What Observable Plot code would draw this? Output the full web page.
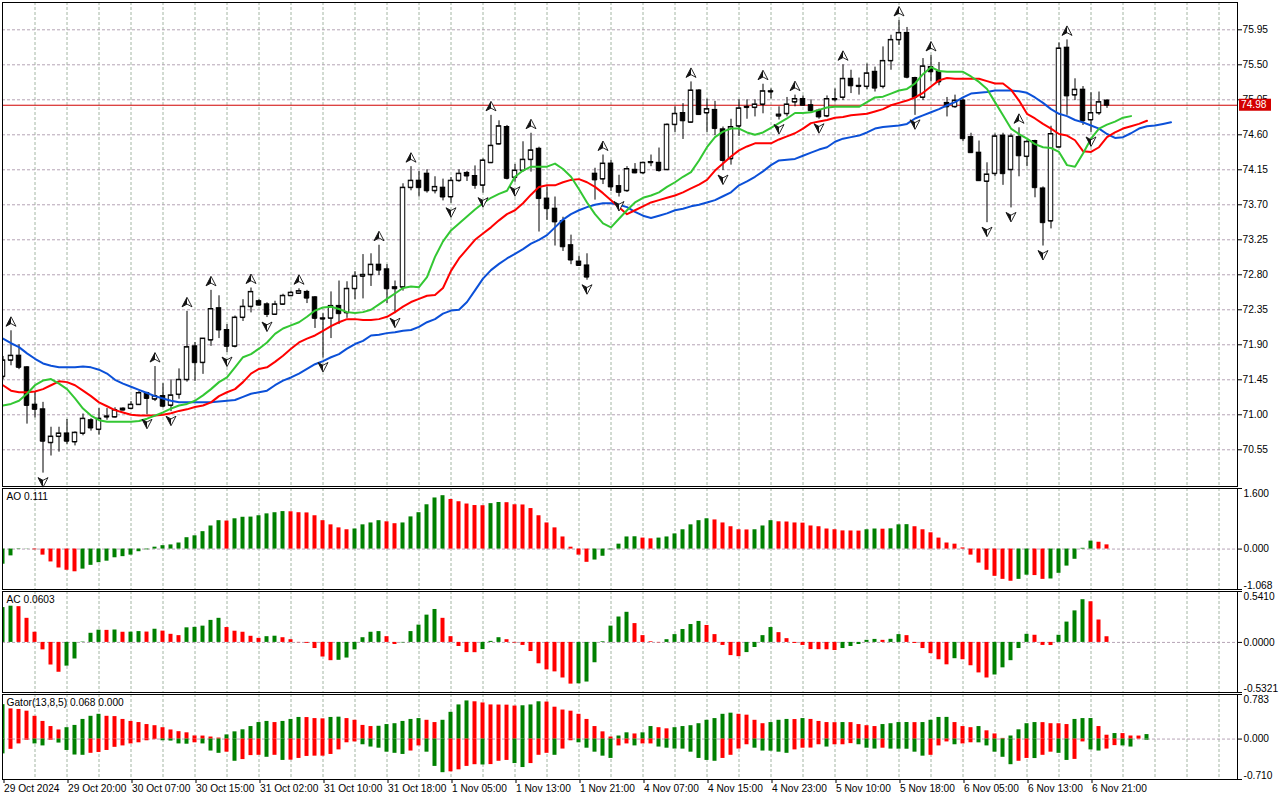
<!DOCTYPE html>
<html><head><meta charset="utf-8">
<script src="https://cdn.jsdelivr.net/npm/d3@7"></script>
<script src="https://cdn.jsdelivr.net/npm/@observablehq/plot@0.6"></script>
<style>
body{margin:0;background:#fff;}
#chart{position:relative;width:1280px;height:800px;overflow:hidden;background:#fff;}
#chart svg{position:absolute;left:0;}
</style></head><body><div id="chart"></div>
<script>
// ---------- DATA ----------
const open = [71.49,71.70,71.76,71.61,71.13,71.07,70.64,70.72,70.76,70.65,
70.76,70.93,70.81,70.97,70.97,71.08,71.08,71.13,71.28,71.20,
71.24,71.12,71.26,71.45,71.88,71.67,71.96,72.37,72.09,71.88,
72.25,72.39,72.46,72.42,72.29,72.42,72.53,72.56,72.58,72.51,
72.24,72.24,72.40,72.31,72.62,72.78,72.80,72.93,72.87,72.64,
72.64,73.92,74.01,74.10,73.88,73.92,73.80,74.01,74.11,74.07,
73.95,74.24,74.48,74.70,74.05,74.14,74.28,74.42,73.78,73.65,
73.49,73.18,72.97,72.92,74.10,74.03,74.23,73.94,73.88,74.15,
74.11,74.24,74.24,74.15,74.73,74.88,74.76,75.17,74.88,74.92,
74.67,74.29,74.71,74.95,74.95,74.99,75.16,74.84,74.87,75.02,
75.06,74.98,74.91,74.84,75.05,75.08,75.32,75.23,75.22,75.41,
75.22,75.55,75.82,75.91,75.33,75.08,75.47,75.41,75.01,74.96,
75.04,74.57,74.37,74.00,74.10,74.59,74.15,74.57,74.32,74.52,
73.91,73.49,74.44,75.72,75.11,75.18,74.79,74.88,75.04];
const high = [71.75,72.08,71.90,71.62,71.30,71.16,70.84,70.84,70.94,70.78,
71.01,70.95,71.08,71.08,71.09,71.09,71.17,71.30,71.29,71.62,
71.40,71.45,71.59,72.33,71.93,71.98,72.60,72.53,72.16,72.27,
72.48,72.63,72.48,72.44,72.46,72.55,72.59,72.62,72.60,72.52,
72.30,72.58,72.72,72.71,72.84,73.06,73.07,73.18,72.93,72.72,
73.97,74.19,74.13,74.15,74.06,74.03,74.05,74.15,74.13,74.20,
74.29,74.85,74.78,74.72,74.22,74.51,74.62,74.44,73.93,73.80,
73.54,73.31,73.04,73.07,74.17,74.34,74.27,74.08,74.19,74.23,
74.25,74.34,74.43,74.74,74.96,75.00,75.28,75.18,75.06,75.03,
74.70,74.80,75.05,75.05,75.05,75.25,75.19,74.96,75.08,75.11,
75.10,75.05,74.93,75.10,75.19,75.50,75.43,75.33,75.51,75.47,
75.73,75.88,76.07,75.98,75.34,75.58,75.62,75.53,75.08,75.11,
75.06,74.62,74.52,74.24,74.61,74.62,74.61,74.69,74.53,74.53,
73.93,74.71,75.78,75.82,75.32,75.22,75.14,75.15,75.05];
const low = [71.45,71.63,71.58,70.88,70.96,70.25,70.47,70.52,70.62,70.60,
70.73,70.79,70.74,70.93,70.96,71.05,71.07,71.12,71.00,71.17,
71.09,71.04,71.20,71.42,71.43,71.52,71.88,71.98,71.80,71.86,
72.20,72.31,72.40,72.25,72.28,72.41,72.52,72.55,72.43,72.11,
71.73,71.98,72.16,72.24,72.48,72.49,72.65,72.79,72.43,72.30,
72.59,73.88,73.80,73.85,73.84,73.75,73.72,73.99,74.00,73.90,
73.85,74.23,74.47,74.02,73.99,74.12,74.12,73.35,73.50,73.17,
73.10,72.93,72.91,72.73,73.76,73.96,73.87,73.80,73.86,74.10,
74.09,74.19,74.12,74.14,74.63,74.54,74.76,74.85,74.63,74.59,
74.14,74.21,74.58,74.80,74.83,74.87,75.06,74.79,74.83,74.96,
74.97,74.89,74.80,74.82,75.02,75.04,75.13,75.11,75.18,75.15,
75.19,75.43,75.75,75.32,74.85,75.04,75.28,75.23,74.83,74.94,
74.51,74.36,74.00,73.47,74.06,73.95,73.66,74.06,74.19,73.79,
73.17,73.39,74.44,74.85,75.04,74.72,74.63,74.85,74.94];
const close = [71.70,71.76,71.61,71.12,71.07,70.66,70.72,70.76,70.66,70.77,
70.95,70.83,70.95,70.98,71.06,71.06,71.13,71.28,71.21,71.24,
71.11,71.25,71.45,71.87,71.67,71.98,72.36,72.09,71.88,72.25,
72.39,72.58,72.41,72.29,72.42,72.53,72.57,72.59,72.50,72.24,
72.23,72.40,72.30,72.62,72.78,72.80,72.93,72.86,72.62,72.62,
73.92,74.01,73.92,73.88,73.93,73.80,74.01,74.10,74.07,73.95,
74.27,74.46,74.71,74.04,74.14,74.28,74.40,73.78,73.65,73.48,
73.16,72.99,72.92,72.77,74.02,74.23,73.93,73.86,74.16,74.11,
74.24,74.25,74.14,74.73,74.87,74.78,75.17,74.86,74.93,74.68,
74.27,74.70,74.94,74.96,74.99,75.16,75.15,74.86,74.99,75.06,
74.98,74.91,74.83,75.06,75.06,75.32,75.23,75.22,75.39,75.20,
75.55,75.82,75.91,75.34,75.08,75.48,75.41,75.28,74.96,75.04,
74.55,74.37,74.01,74.09,74.58,74.10,74.58,74.33,74.51,73.92,
73.47,74.61,75.71,75.10,75.18,74.78,74.88,75.02,74.98];

// Alligator (jaw shifted 8, teeth 5, lips 3 bars)
const jaw = [71.98,71.92,71.87,71.79,71.72,71.66,71.63,71.61,71.61,71.61,
71.62,71.61,71.58,71.53,71.45,71.40,71.36,71.32,71.28,71.24,
71.21,71.18,71.16,71.16,71.16,71.16,71.16,71.17,71.18,71.19,
71.23,71.27,71.29,71.31,71.38,71.44,71.48,71.53,71.59,71.65,
71.69,71.74,71.78,71.85,71.91,71.95,72.02,72.03,72.05,72.06,
72.08,72.09,72.13,72.19,72.23,72.30,72.34,72.35,72.45,72.60,
72.75,72.86,72.94,73.01,73.07,73.13,73.20,73.25,73.31,73.41,
73.51,73.58,73.63,73.67,73.70,73.72,73.72,73.70,73.67,73.61,
73.56,73.53,73.56,73.59,73.63,73.65,73.68,73.70,73.73,73.76,
73.81,73.86,73.95,74.00,74.06,74.13,74.21,74.27,74.28,74.29,
74.33,74.37,74.41,74.44,74.51,74.55,74.57,74.59,74.63,74.68,
74.70,74.71,74.72,74.74,74.81,74.85,74.89,74.93,74.98,75.02,
75.08,75.13,75.14,75.15,75.17,75.17,75.17,75.16,75.14,75.08,
75.01,74.93,74.87,74.84,74.79,74.76,74.72,74.68,74.61,74.56,
74.57,74.62,74.68,74.71,74.72,74.74,74.76];
const teeth = [71.38,71.31,71.29,71.29,71.30,71.33,71.38,71.43,71.42,71.38,
71.31,71.24,71.16,71.11,71.06,71.03,71.00,70.99,70.99,70.99,
71.00,71.02,71.05,71.07,71.10,71.12,71.16,71.24,71.29,71.33,
71.42,71.53,71.59,71.61,71.68,71.76,71.85,71.93,71.98,72.02,
72.08,72.14,72.19,72.23,72.23,72.22,72.22,72.23,72.26,72.32,
72.39,72.45,72.49,72.53,72.54,72.63,72.85,73.01,73.13,73.25,
73.33,73.41,73.50,73.58,73.63,73.72,73.83,73.93,73.95,73.95,
73.99,74.02,74.03,73.99,73.93,73.85,73.76,73.67,73.58,73.63,
73.68,73.73,73.76,73.79,73.82,73.86,73.91,73.96,74.02,74.14,
74.23,74.32,74.40,74.45,74.49,74.49,74.49,74.54,74.58,74.62,
74.68,74.75,74.77,74.79,74.82,74.83,74.85,74.86,74.87,74.90,
74.93,74.98,75.01,75.04,75.08,75.14,75.22,75.30,75.33,75.32,
75.32,75.32,75.32,75.29,75.26,75.26,75.18,75.04,74.87,74.81,
74.74,74.68,74.61,74.59,74.53,74.39,74.38,74.44,74.57,74.63,
74.68,74.71,74.74,74.78];
const lips = [71.12,71.14,71.18,71.27,71.38,71.44,71.46,71.40,71.33,71.21,
71.08,70.99,70.93,70.91,70.91,70.91,70.91,70.92,70.95,70.99,
71.03,71.08,71.12,71.14,71.18,71.25,71.33,71.42,71.48,71.61,
71.74,71.78,71.85,71.93,72.04,72.11,72.15,72.19,72.26,72.34,
72.38,72.39,72.36,72.32,72.31,72.32,72.35,72.42,72.49,72.56,
72.63,72.65,72.64,72.77,73.03,73.23,73.37,73.46,73.55,73.64,
73.72,73.79,73.84,73.88,74.06,74.14,74.19,74.19,74.19,74.23,
74.16,74.06,73.90,73.73,73.58,73.46,73.41,73.52,73.63,73.73,
73.79,73.82,73.86,73.93,73.99,74.06,74.12,74.27,74.44,74.57,
74.64,74.68,74.68,74.63,74.60,74.63,74.69,74.75,74.81,74.88,
74.88,74.89,74.92,74.95,74.96,74.96,74.96,74.96,75.02,75.08,
75.09,75.13,75.17,75.19,75.26,75.38,75.47,75.42,75.41,75.41,
75.41,75.35,75.28,75.19,75.02,74.85,74.68,74.61,74.55,74.48,
74.44,74.43,74.38,74.21,74.19,74.36,74.55,74.68,74.73,74.77,
74.82,74.84];

const upFractals = [1,19,23,26,31,37,47,51,61,66,75,86,95,99,105,112,116,127,133];
const downFractals = [5,18,21,28,33,40,49,56,60,64,73,77,90,97,102,114,123,126,130,136];

const ao = [-0.40,-0.18,-0.01,-0.005,-0.02,-0.16,-0.34,-0.50,-0.56,-0.60,
-0.53,-0.43,-0.36,-0.32,-0.23,-0.20,-0.16,-0.07,-0.02,0.05,
0.09,0.11,0.16,0.30,0.35,0.46,0.61,0.75,0.74,0.80,
0.84,0.845,0.88,0.93,0.96,0.99,0.985,0.96,0.955,0.88,
0.75,0.64,0.56,0.51,0.53,0.64,0.69,0.75,0.72,0.67,
0.69,0.85,0.96,1.17,1.35,1.41,1.31,1.25,1.19,1.15,
1.145,1.20,1.23,1.225,1.17,1.165,1.07,0.88,0.69,0.56,
0.32,0.05,-0.16,-0.35,-0.29,-0.19,-0.02,0.13,0.32,0.325,
0.29,0.27,0.29,0.32,0.40,0.51,0.64,0.75,0.80,0.77,
0.69,0.59,0.51,0.505,0.51,0.61,0.75,0.72,0.715,0.69,
0.685,0.61,0.59,0.53,0.51,0.48,0.478,0.475,0.51,0.53,
0.525,0.535,0.64,0.645,0.59,0.51,0.43,0.29,0.16,0.13,
0.03,-0.16,-0.37,-0.56,-0.72,-0.80,-0.85,-0.80,-0.69,-0.70,
-0.80,-0.79,-0.64,-0.45,-0.27,0.02,0.21,0.18,0.111];
const ac = [0.37,0.385,0.38,0.256,0.108,-0.079,-0.24,-0.317,-0.252,-0.176,
0.004,0.097,0.13,0.128,0.132,0.108,0.109,0.115,0.11,0.14,
0.12,0.086,0.072,0.155,0.16,0.173,0.234,0.256,0.158,0.119,
0.108,0.065,0.043,0.061,0.066,0.05,0.029,-0.003,-0.01,-0.065,
-0.155,-0.194,-0.19,-0.166,-0.079,0.05,0.108,0.115,0.061,-0.022,
-0.005,0.115,0.184,0.29,0.35,0.256,0.061,-0.043,-0.108,-0.109,
-0.076,0.011,0.05,0.029,-0.007,-0.032,-0.097,-0.227,-0.292,-0.313,
-0.378,-0.443,-0.44,-0.421,-0.216,0.007,0.173,0.27,0.32,0.20,
0.072,0.007,-0.004,0.029,0.083,0.137,0.19,0.223,0.18,0.083,
-0.032,-0.14,-0.151,-0.108,-0.054,0.072,0.158,0.104,0.04,-0.011,
-0.032,-0.076,-0.077,-0.078,-0.086,-0.065,-0.043,-0.022,0.022,0.032,
0.022,0.033,0.083,0.072,-0.011,-0.065,-0.119,-0.184,-0.238,-0.173,
-0.184,-0.248,-0.324,-0.378,-0.346,-0.27,-0.194,-0.065,0.086,0.076,
-0.032,-0.033,0.076,0.216,0.335,0.454,0.432,0.238,0.0603];
const gatorUp = [0.605,0.53,0.52,0.49,0.40,0.31,0.22,0.16,0.20,0.24,
0.345,0.40,0.435,0.40,0.395,0.345,0.31,0.29,0.255,0.235,
0.20,0.16,0.13,0.11,0.055,0.053,0.036,0.018,0.073,0.127,
0.163,0.22,0.29,0.31,0.29,0.31,0.345,0.38,0.378,0.36,
0.355,0.38,0.385,0.36,0.33,0.24,0.22,0.225,0.255,0.27,
0.31,0.345,0.36,0.33,0.29,0.33,0.47,0.60,0.67,0.655,
0.635,0.60,0.598,0.596,0.58,0.585,0.60,0.655,0.65,0.56,
0.51,0.49,0.435,0.345,0.22,0.127,0.036,0.054,0.11,0.09,
0.11,0.22,0.20,0.18,0.20,0.22,0.235,0.27,0.33,0.36,
0.435,0.455,0.435,0.42,0.33,0.27,0.29,0.33,0.345,0.343,
0.36,0.345,0.31,0.29,0.288,0.29,0.289,0.255,0.235,0.22,
0.255,0.27,0.29,0.291,0.289,0.29,0.33,0.38,0.381,0.29,
0.22,0.20,0.22,0.145,0.09,0.012,0.054,0.163,0.27,0.29,
0.289,0.27,0.269,0.255,0.345,0.36,0.361,0.22,0.068,0.097,
0.096,0.054,0.053,0.079];
const gatorDown = [-0.26,-0.18,-0.085,-0.02,-0.085,-0.12,-0.02,-0.07,-0.20,-0.28,
-0.285,-0.25,-0.235,-0.20,-0.145,-0.12,-0.085,-0.065,-0.03,-0.01,
-0.03,-0.035,-0.085,-0.09,-0.065,-0.085,-0.21,-0.25,-0.23,-0.39,
-0.36,-0.29,-0.285,-0.32,-0.285,-0.375,-0.37,-0.34,-0.305,-0.30,
-0.30,-0.27,-0.19,-0.065,-0.05,-0.10,-0.14,-0.16,-0.23,-0.25,
-0.27,-0.21,-0.12,-0.23,-0.48,-0.59,-0.575,-0.54,-0.48,-0.45,
-0.455,-0.448,-0.39,-0.375,-0.43,-0.50,-0.43,-0.285,-0.25,-0.285,
-0.175,-0.03,-0.065,-0.16,-0.23,-0.30,-0.34,-0.12,-0.085,-0.12,
-0.085,-0.085,-0.14,-0.16,-0.175,-0.176,-0.23,-0.34,-0.375,-0.39,
-0.34,-0.285,-0.175,-0.10,-0.16,-0.21,-0.212,-0.23,-0.25,-0.19,
-0.16,-0.158,-0.10,-0.14,-0.10,-0.10,-0.08,-0.10,-0.16,-0.175,
-0.16,-0.176,-0.177,-0.178,-0.23,-0.30,-0.285,-0.12,-0.05,-0.10,
-0.085,-0.065,-0.066,-0.12,-0.23,-0.32,-0.45,-0.39,-0.34,-0.342,
-0.285,-0.23,-0.25,-0.375,-0.357,-0.05,-0.19,-0.21,-0.175,-0.115,
-0.12,-0.14,null,-0.02];

const priceTicks = [75.95,75.50,75.05,74.60,74.15,73.70,73.25,72.80,72.35,71.90,71.45,71.00,70.55];
const lastPrice = 74.98;
const timeIdx = [0,8,16,24,32,40,48,56,64,72,80,88,96,104,112,120,128,136];
const timeLabels = ["29 Oct 2024","29 Oct 20:00","30 Oct 07:00","30 Oct 15:00","31 Oct 02:00","31 Oct 10:00","31 Oct 18:00","1 Nov 05:00","1 Nov 13:00","1 Nov 21:00","4 Nov 07:00","4 Nov 15:00","4 Nov 23:00","5 Nov 10:00","5 Nov 18:00","6 Nov 05:00","6 Nov 13:00","6 Nov 21:00"];
const aoTicks = [1.600, 0, -1.068];
const acTicks = [0.5410, 0, -0.5321];
const gatorTicks = [0.783, 0, -0.710];
const aoTitle = "AO 0.111";
const acTitle = "AC 0.0603";
const gatorTitle = "Gator(13,8,5) 0.068 0.000";

// ---------- LAYOUT / STYLE ----------
const W = 1280, ML = 2, MR = 43;
const xDomain = [-0.0625, 154.3125];
const gridIdx = d3.range(4, 154, 4);
const GREEN = "#008000", RED = "#ff0000";
const VGRID = "#a4b6a4", HGRID = "#b6a4b6";
const FSIZE = "10.2px";
const FFAM = "'Liberation Sans', Arial, sans-serif";
const FONT = {fontFamily: FFAM, fontSize: FSIZE, color: "#000", background: "transparent", overflow: "visible"};
const chart = document.getElementById("chart");

const candles = open.map((o, k) => ({k, open: o, high: high[k], low: low[k], close: close[k]}));
const series = arr => arr.map((v, k) => ({k, v})).filter(d => d.v != null);
const colored = arr => arr.map((v, k) => ({k, v, up: k === 0 || arr[k-1] == null || Math.abs(v) > Math.abs(arr[k-1])})).filter(d => d.v != null);
const coloredSigned = arr => arr.map((v, k) => ({k, v, up: k === 0 || v > arr[k-1]}));

function arrowSym(dir, half) {
  return {draw(ctx, size) {
    const r = Math.sqrt(size / Math.PI), s = dir;
    ctx.moveTo(0, -r * s);
    if (!half) ctx.lineTo(r, 0.9 * r * s);
    ctx.lineTo(0, 0.35 * r * s);
    ctx.lineTo(-r, 0.9 * r * s);
    ctx.closePath();
  }};
}
const upF = upFractals.map(k => candles[k]);
const dnF = downFractals.map(k => candles[k]);

const main = Plot.plot({
  width: W, height: 488, marginLeft: ML, marginRight: MR, marginTop: 2, marginBottom: 2,
  style: FONT,
  x: {domain: xDomain, axis: null},
  y: {domain: [70.078, 76.301], axis: null},
  marks: [
    Plot.ruleX(gridIdx, {stroke: VGRID, strokeDasharray: "3,2"}),
    Plot.ruleY(priceTicks, {stroke: HGRID, strokeDasharray: "3,2"}),
    Plot.ruleY([lastPrice], {stroke: "#d00000"}),
    Plot.ruleX(candles, {x: "k", y1: "low", y2: "high", stroke: "#000", clip: true}),
    Plot.rect(candles, {x1: d => d.k - 0.28, x2: d => d.k + 0.28, y1: "open", y2: "close",
      fill: d => d.close >= d.open ? "#fff" : "#000", stroke: "#000", clip: true}),
    Plot.ruleY(candles, {y: "close", x1: d => d.k - 0.28, x2: d => d.k + 0.28, stroke: "#000", clip: true}),
    Plot.ruleY(candles, {y: "open", x1: d => d.k - 0.28, x2: d => d.k + 0.28, stroke: "#000", clip: true}),
    Plot.line(series(jaw), {x: "k", y: "v", stroke: "#0b50d8", strokeWidth: 2, clip: true}),
    Plot.line(series(teeth), {x: "k", y: "v", stroke: "#ff0000", strokeWidth: 2, clip: true}),
    Plot.line(series(lips), {x: "k", y: "v", stroke: "#33c733", strokeWidth: 2, clip: true}),
    Plot.dot(upF, {x: "k", y: "high", dy: -9, r: 5, symbol: arrowSym(1, false), fill: "#fff", stroke: "#111", strokeWidth: 0.9}),
    Plot.dot(upF, {x: "k", y: "high", dy: -9, r: 5, symbol: arrowSym(1, true), fill: "#111", stroke: "none"}),
    Plot.dot(dnF, {x: "k", y: "low", dy: 9, r: 5, symbol: arrowSym(-1, false), fill: "#fff", stroke: "#111", strokeWidth: 0.9}),
    Plot.dot(dnF, {x: "k", y: "low", dy: 9, r: 5, symbol: arrowSym(-1, true), fill: "#111", stroke: "none"}),
    Plot.axisY(priceTicks, {anchor: "right", label: null, tickSize: 4, tickPadding: 1, tickFormat: d => d.toFixed(2), fill: "#000"}),
    Plot.frame({stroke: "#000"})
  ]
});
main.style.top = "0px";
chart.appendChild(main);
// current price badge on the price axis
{
  const y = main.scale("y").apply(lastPrice);
  const g = d3.select(main).append("g");
  g.append("rect").attr("x", W - MR + 2).attr("y", y - 6).attr("width", 32).attr("height", 12).attr("fill", "#d40000");
  g.append("text").attr("x", W - MR + 4).attr("y", y).attr("dy", "0.35em").attr("fill", "#fff")
    .attr("text-anchor", "start").style("font-family", FFAM).style("font-size", FSIZE).text(lastPrice.toFixed(2));
}

function pane({top, height, mb, domain, ticks, decimals, title, marks, extra = []}) {
  const p = Plot.plot({
    width: W, height, marginLeft: ML, marginRight: MR, marginTop: 1, marginBottom: mb,
    style: FONT,
    x: {domain: xDomain, axis: null},
    y: {domain, axis: null},
    marks: [
      Plot.ruleX(gridIdx, {stroke: VGRID, strokeDasharray: "3,2"}),
      Plot.ruleY([0], {stroke: HGRID, strokeDasharray: "3,2"}),
      ...marks,
      Plot.axisY(ticks, {anchor: "right", label: null, tickSize: 4, tickFormat: () => ""}),
      Plot.text([ticks[0]], {y: d => d, text: d => d.toFixed(decimals), frameAnchor: "right", dx: 6, dy: 1, textAnchor: "start", lineAnchor: "top", fill: "#000"}),
      Plot.text([ticks[1]], {y: d => d, text: d => d.toFixed(decimals), frameAnchor: "right", dx: 6, textAnchor: "start", lineAnchor: "middle", fill: "#000"}),
      Plot.text([ticks[2]], {y: d => d, text: d => d.toFixed(decimals), frameAnchor: "right", dx: 6, dy: -1, textAnchor: "start", lineAnchor: "bottom", fill: "#000"}),
      Plot.text([title], {text: d => d, frameAnchor: "top-left", dx: 4, dy: 4, textAnchor: "start", lineAnchor: "top", fill: "#000"}),
      ...extra,
      Plot.frame({stroke: "#000"})
    ]
  });
  p.style.top = top + "px";
  chart.appendChild(p);
  return p;
}
const barX = {x1: d => d.k - 0.25, x2: d => d.k + 0.25};

pane({top: 487, height: 103, mb: 1, domain: [-1.068, 1.600], ticks: aoTicks, decimals: 3, title: aoTitle,
  marks: [Plot.rect(coloredSigned(ao), {...barX, y1: () => 0, y2: "v", fill: d => d.up ? GREEN : RED, clip: true})]});
pane({top: 590, height: 103, mb: 1, domain: [-0.5321, 0.5410], ticks: acTicks, decimals: 4, title: acTitle,
  marks: [Plot.rect(coloredSigned(ac), {...barX, y1: () => 0, y2: "v", fill: d => d.up ? GREEN : RED, clip: true})]});
pane({top: 693, height: 110, mb: 24, domain: [-0.710, 0.783], ticks: gatorTicks, decimals: 3, title: gatorTitle,
  marks: [
    Plot.rect(colored(gatorUp), {...barX, y1: () => 0, y2: "v", fill: d => d.up ? GREEN : RED, clip: true}),
    Plot.rect(colored(gatorDown), {...barX, y1: () => 0, y2: "v", fill: d => d.up ? GREEN : RED, clip: true})
  ],
  extra: [Plot.axisX(timeIdx, {anchor: "bottom", label: null, tickSize: 4, tickPadding: 1, textAnchor: "start", dx: 1,
    tickFormat: d => timeLabels[timeIdx.indexOf(d)], fill: "#000"})]
});
</script></body></html>
